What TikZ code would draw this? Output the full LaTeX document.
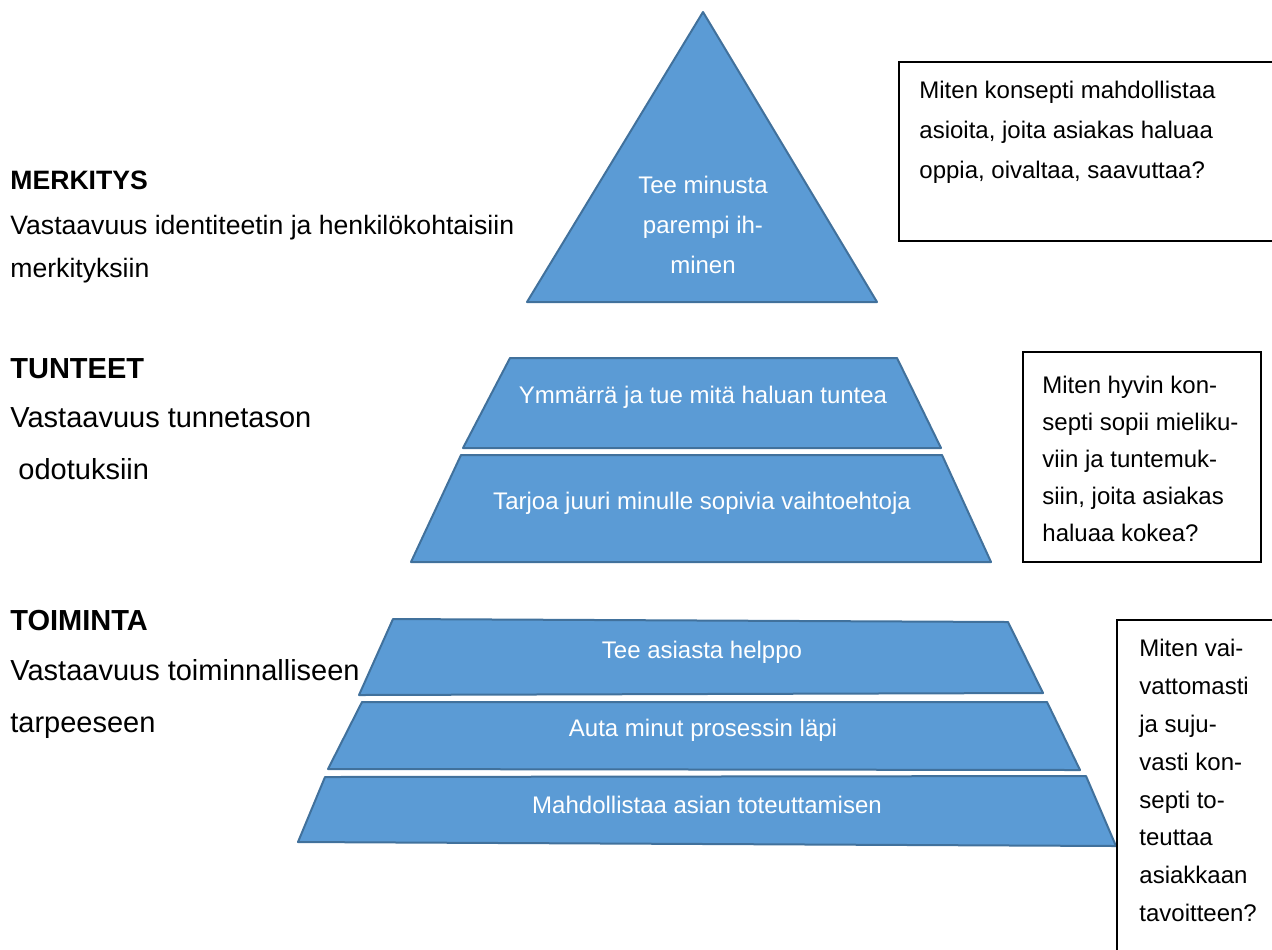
\documentclass[tikz,border=0pt]{standalone}
\usepackage{fontspec}
\setmainfont{Liberation Sans}
\usepackage{xcolor}
\usepackage{tikz}

\definecolor{layerblue}{HTML}{5B9BD5}
\definecolor{layeredge}{HTML}{41719C}

\newcommand{\layfont}{\fontsize{12pt}{20pt}\selectfont}
\newcommand{\smallside}{\fontsize{13.3pt}{21.5pt}\selectfont}
\newcommand{\bigside}{\fontsize{14.5pt}{26pt}\selectfont}

\tikzset{
  layer/.style={fill=layerblue, draw=layeredge, line width=1pt, line join=round},
  layerlabel/.style={text=white, font=\layfont, inner sep=0pt, align=center},
  qbox/.style={draw=black, line width=0.8pt},
  qtext/.style={anchor=north west, inner sep=0pt, align=left},
  sidehead/.style={anchor=base west, inner sep=0pt},
  sidetext/.style={anchor=north west, inner sep=0pt, align=left}
}

\begin{document}
\begin{tikzpicture}[x=0.5pt,y=-0.5pt]
                \useasboundingbox (0,0) rectangle (1272,949);

                % Top level
                \draw[layer] (703,12) -- (877,302) -- (527,302) -- cycle;
                \node[layerlabel, anchor=north] (topLabel) at (703,176) {Tee minusta\\parempi ih-\\minen};

                % Mid-level
                \draw[layer] (510,358) -- (897,358) -- (941,448) -- (463,448) -- cycle;
                \node[layerlabel] (feelUpper) at (703,397) {Ymmärrä ja tue mitä haluan tuntea};
                \draw[layer] (461,455) -- (942,455) -- (991,562) -- (411,562) -- cycle;
                \node[layerlabel] (feelLower) at (702,503) {Tarjoa juuri minulle sopivia vaihtoehtoja};

                % Low-level
                \draw[layer] (393,619) -- (1008,622) -- (1043,693) -- (359,695) -- cycle;
                \node[layerlabel] (actTop) at (702,652) {Tee asiasta helppo};
                \draw[layer] (362,702) -- (1047,702) -- (1080,770) -- (328,769) -- cycle;
                \node[layerlabel] (actMid) at (703,730) {Auta minut prosessin läpi};
                \draw[layer] (325,777) -- (1086,776) -- (1116,846) -- (298,842) -- cycle;
                \node[layerlabel] (actLow) at (707,805) {Mahdollistaa asian toteuttamisen};

                % Questions
                \draw[qbox] (899,62) rectangle (1290,241);
                \node[qtext, font=\fontsize{12pt}{20pt}\selectfont] (askMeaning) at (919,81)
                  {Miten konsepti mahdollistaa\\asioita, joita asiakas haluaa\\oppia, oivaltaa, saavuttaa?};
                \draw[qbox] (1023,352) rectangle (1261,562);
                \node[qtext, font=\fontsize{12pt}{18.5pt}\selectfont] (askFeeling) at (1042,376)
                  {Miten hyvin kon-\\septi sopii mieliku-\\viin ja tuntemuk-\\siin, joita asiakas\\haluaa kokea?};
                \draw[qbox] (1117,620) rectangle (1290,970);
                \node[qtext, font=\fontsize{12pt}{18.9pt}\selectfont] (askAction) at (1139,639)
                  {Miten vai-\\vattomasti\\ja suju-\\vasti kon-\\septi to-\\teuttaa\\asiakkaan\\tavoitteen?};

                % Side labels
                \node[sidehead, font=\smallside\bfseries] (meaningHead) at (10,189) {MERKITYS};
                \node[sidetext, font=\smallside] (meaningText) at (10,215)
                  {Vastaavuus identiteetin ja henkilökohtaisiin\\merkityksiin};
                \node[sidehead, font=\bigside\bfseries] (feelingHead) at (10,378) {TUNTEET};
                \node[sidetext, font=\bigside] (feelingText) at (10,407)
                  {Vastaavuus tunnetason\\\hspace*{.278em}odotuksiin};
                \node[sidehead, font=\bigside\bfseries] (actionHead) at (10,630) {TOIMINTA};
                \node[sidetext, font=\bigside] (actionText) at (10,659)
                  {Vastaavuus toiminnalliseen\\tarpeeseen};
            \end{tikzpicture}
\end{document}
